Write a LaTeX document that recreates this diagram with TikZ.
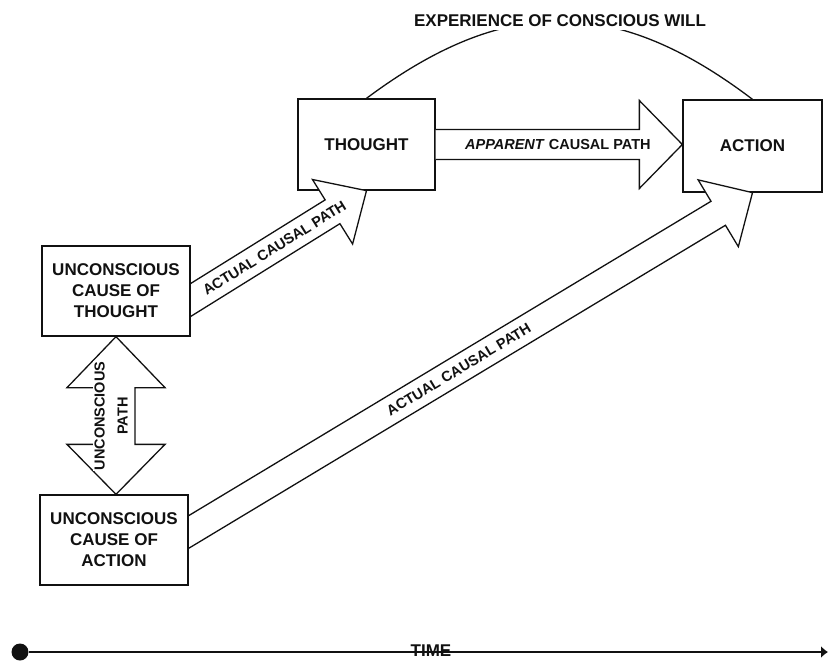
\documentclass[tikz,border=0pt]{standalone}
\usepackage{fontspec}
\setmainfont{Liberation Sans}
\usetikzlibrary{calc,arrows.meta}
\newcommand{\Unit}{1pt}
\newcommand{\Edge}{1.3pt}
\newcommand{\BoxFont}{\fontsize{17}{21}\selectfont\bfseries}
\newcommand{\PathFont}{\fontsize{14.5}{17}\selectfont\bfseries}
\definecolor{pen}{HTML}{111111}
\pgfdeclarelayer{front}
\pgfsetlayers{main,front}

% a fat arrow: name, edge point, tip, tail tucked behind the edge,
% half shaft, half head, head length
\newcommand{\FatArrow}[7]{%
  \coordinate (#1-e) at (#2);
  \coordinate (#1-t) at (#3);
  \coordinate (#1-s) at ($(#1-e)!-#4!(#1-t)$);
  \coordinate (#1-b) at ($(#1-t)!#7!(#1-e)$);
  \filldraw[fat]
    ($(#1-s)!#5!90:(#1-t)$) -- ($(#1-b)!#5!90:(#1-t)$) -- ($(#1-b)!#6!90:(#1-t)$)
    -- (#1-t) -- ($(#1-b)!#6!-90:(#1-t)$) -- ($(#1-b)!#5!-90:(#1-t)$)
    -- ($(#1-s)!#5!-90:(#1-t)$);
}

\tikzset{
  box/.style={draw=pen, line width=\Edge, align=center, font=\BoxFont, text=pen,
    minimum width=148pt, minimum height=90pt, inner sep=2pt},
  fat/.style={draw=pen, fill=white, line width=\Edge, line join=miter},
  pathtext/.style={font=\PathFont, text=pen, inner sep=1pt}
}

\begin{document}
\begin{tikzpicture}[x=\Unit, y=-\Unit, line cap=butt]
  \useasboundingbox (0,0) rectangle (828,661);

  % ---- the two boxes at the top -------------------------------------------
  \node[box, minimum width=137pt, minimum height=91pt] (thought) at (366.5,144.5) {THOUGHT};
  \node[box, minimum width=139pt, minimum height=92pt] (action) at (752.5,146) {ACTION};

  % ---- the two unconscious causes, kept above the arrow tails -------------
  \begin{pgfonlayer}{front}
    \node[box, fill=white] (uct) at (116,291) {UNCONSCIOUS\\CAUSE OF\\THOUGHT};
    \node[box, fill=white] (uca) at (114,540) {UNCONSCIOUS\\CAUSE OF\\ACTION};
  \end{pgfonlayer}

  % ---- the arc of will over the top ---------------------------------------
  \draw[pen, line width=\Edge] (thought.north)
    .. controls +(138,-103) and +(-137,-104) .. (action.north);
  \node[fill=white, font=\BoxFont, text=pen, inner sep=3pt] (will) at (560,21)
    {EXPERIENCE OF CONSCIOUS WILL};

  % ---- the three causal paths ---------------------------------------------
  \FatArrow{mid}{thought.east}{thought.east -| action.west}{0pt}{15pt}{44pt}{43pt}
  \FatArrow{up}{$(uct.east)+(0,9)$}{thought.south}{20pt}{14pt}{38pt}{40pt}
  \FatArrow{low}{$(uca.east)+(0,-8)$}{action.south}{20pt}{14pt}{39pt}{40pt}
  \path (mid-e) -- (mid-b) node[pathtext, pos=0.6] (mid-text) {\textit{APPARENT} CAUSAL PATH};
  \path (up-e) -- (up-b) node[pathtext, sloped, pos=0.59] (up-text) {ACTUAL CAUSAL PATH};
  \path (low-e) -- (low-b) node[pathtext, sloped, pos=0.51] (low-text) {ACTUAL CAUSAL PATH};

  % ---- the two-way path between the causes --------------------------------
  \coordinate (dtop) at (uct.south);
  \coordinate (dbot) at (uct.south |- uca.north);
  \filldraw[fat] (dtop) -- ++(49,51) -- ++(-30,0) -- ($(dbot)+(19,-50)$) -- ++(30,0)
    -- (dbot) -- ++(-49,-50) -- ++(30,0) -- ($(dtop)+(-19,51)$) -- ++(-30,0) -- cycle;
  \node[pathtext, rotate=90, align=center, fill=white,
    font={\fontsize{14.5}{23}\selectfont\bfseries}] (both-text) at (111,416)
    {UNCONSCIOUS\\PATH};

  % ---- the time line ------------------------------------------------------
  \node[circle, fill=pen, inner sep=0pt, minimum size=17pt] (tstart) at (20,652) {};
  \coordinate (tend) at (828,652);
  \draw[pen, line width=\Edge, -{Latex[length=7pt,width=12pt]}] (tstart) -- (tend);
  \node[font=\BoxFont, text=pen, inner sep=0pt] (time) at (431,651) {TIME};

\end{tikzpicture}
\end{document}
